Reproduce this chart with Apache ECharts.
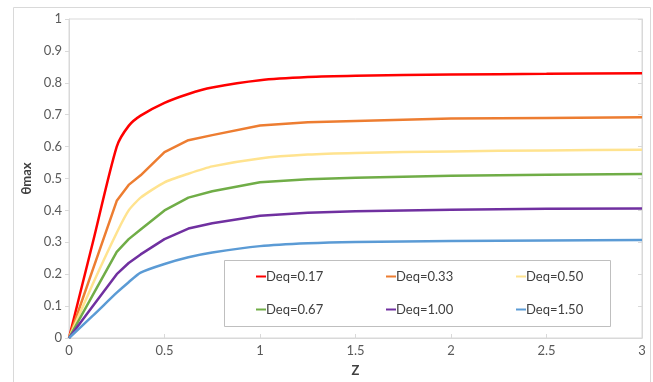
<!DOCTYPE html>
<html><head><meta charset="utf-8">
<script src="https://cdn.jsdelivr.net/npm/echarts@6/dist/echarts.min.js"></script>
<style>html,body{margin:0;padding:0;background:#fff}#c{width:653px;height:382px}</style>
</head><body><div id="c"></div>
<script>
const zValues = [0, 0.125, 0.25, 0.3125, 0.375, 0.5, 0.625, 0.75, 1, 1.25, 1.5, 2, 2.5, 3];
const seriesNames = ['Deq=0.17', 'Deq=0.33', 'Deq=0.50', 'Deq=0.67', 'Deq=1.00', 'Deq=1.50'];
const deq017 = [0, 0.30, 0.60, 0.665, 0.697, 0.737, 0.765, 0.785, 0.808, 0.818, 0.822, 0.826, 0.828, 0.830];
const deq033 = [0, 0.215, 0.43, 0.48, 0.51, 0.583, 0.62, 0.636, 0.666, 0.676, 0.680, 0.688, 0.690, 0.692];
const deq050 = [0, 0.17, 0.33, 0.40, 0.44, 0.488, 0.515, 0.538, 0.563, 0.575, 0.580, 0.585, 0.588, 0.590];
const deq067 = [0, 0.135, 0.27, 0.31, 0.34, 0.40, 0.44, 0.46, 0.488, 0.498, 0.502, 0.509, 0.512, 0.514];
const deq100 = [0, 0.10, 0.20, 0.235, 0.262, 0.31, 0.343, 0.36, 0.383, 0.393, 0.397, 0.402, 0.405, 0.406];
const deq150 = [0, 0.07, 0.142, 0.175, 0.205, 0.232, 0.253, 0.268, 0.288, 0.297, 0.301, 0.304, 0.306, 0.307];
const allValues = [deq017, deq033, deq050, deq067, deq100, deq150];
const colors = ['#FF0000', '#ED7D31', '#FFE38F', '#70AD47', '#7030A0', '#5B9BD5'];
const smoothFlags = [0.25, false, 0.2, false, false, 0.2];

const font = 'Lato, "Liberation Sans", sans-serif';
const chart = echarts.init(document.getElementById('c'), null, {renderer: 'canvas'});
const legends = seriesNames.map((name, i) => ({
  data: [name], orient: 'horizontal', itemWidth: 10, itemHeight: 14, itemGap: 0, padding: 0,
  icon: 'path://M0,6 L10,6 L10,8 L0,8 Z',
  textStyle: {fontFamily: font, fontSize: 13, color: '#404040', padding: [0, 0, 0, -5]},
  left: 256 + 130 * (i % 3),
  top: 270 + 33 * Math.floor(i / 3),
  z: 20
}));
chart.setOption({
  animation: false,
  color: colors,
  grid: {left: 69, right: 11, top: 19, bottom: 43, show: true, borderColor: '#d9d9d9', borderWidth: 1},
  graphic: [
    {type: 'rect', shape: {x: 13.5, y: 7.5, width: 637, height: 420}, style: {fill: 'none', stroke: '#d9d9d9', lineWidth: 1}, z: -1},
    {type: 'rect', shape: {x: 224.5, y: 260.5, width: 386, height: 66}, style: {fill: '#fff', stroke: '#bfbfbf', lineWidth: 1}, z: 10}
  ],
  legend: legends,
  xAxis: {
    type: 'value', min: 0, max: 3, interval: 0.5,
    name: 'Z', nameLocation: 'middle', nameGap: 26,
    nameTextStyle: {fontFamily: font, fontSize: 13, fontWeight: 'bold', color: '#404040'},
    axisLine: {show: true, lineStyle: {color: '#d9d9d9'}},
    axisTick: {show: true, inside: true, length: 4, lineStyle: {color: '#d9d9d9'}},
    axisLabel: {fontFamily: font, fontSize: 13, color: '#595959', margin: 6},
    splitLine: {show: false}
  },
  yAxis: [{
    type: 'value', min: 0, max: 1, interval: 0.1,
    name: 'θmax', nameLocation: 'middle', nameGap: 36, nameRotate: 90,
    nameTextStyle: {fontFamily: font, fontSize: 13, fontWeight: 'bold', color: '#404040'},
    axisLine: {show: true, lineStyle: {color: '#d9d9d9'}},
    axisTick: {show: true, length: 4, lineStyle: {color: '#d9d9d9'}},
    axisLabel: {fontFamily: font, fontSize: 13, color: '#595959', margin: 7,
      formatter: v => String(Math.round(v * 10) / 10)},
    splitLine: {show: false}
  }, {
    type: 'value', min: 0, max: 1, interval: 0.1, position: 'right',
    axisLine: {show: true, lineStyle: {color: '#d9d9d9'}},
    axisTick: {show: true, inside: true, length: 4, lineStyle: {color: '#d9d9d9'}},
    axisLabel: {show: false}, splitLine: {show: false}
  }],
  series: seriesNames.map((name, i) => ({
    name: name, type: 'line', yAxisIndex: 0,
    data: zValues.map((z, j) => [z, allValues[i][j]]),
    showSymbol: false, smooth: smoothFlags[i],
    lineStyle: {width: 2.5, color: colors[i]},
    itemStyle: {color: colors[i]}
  }))
});
</script></body></html>
